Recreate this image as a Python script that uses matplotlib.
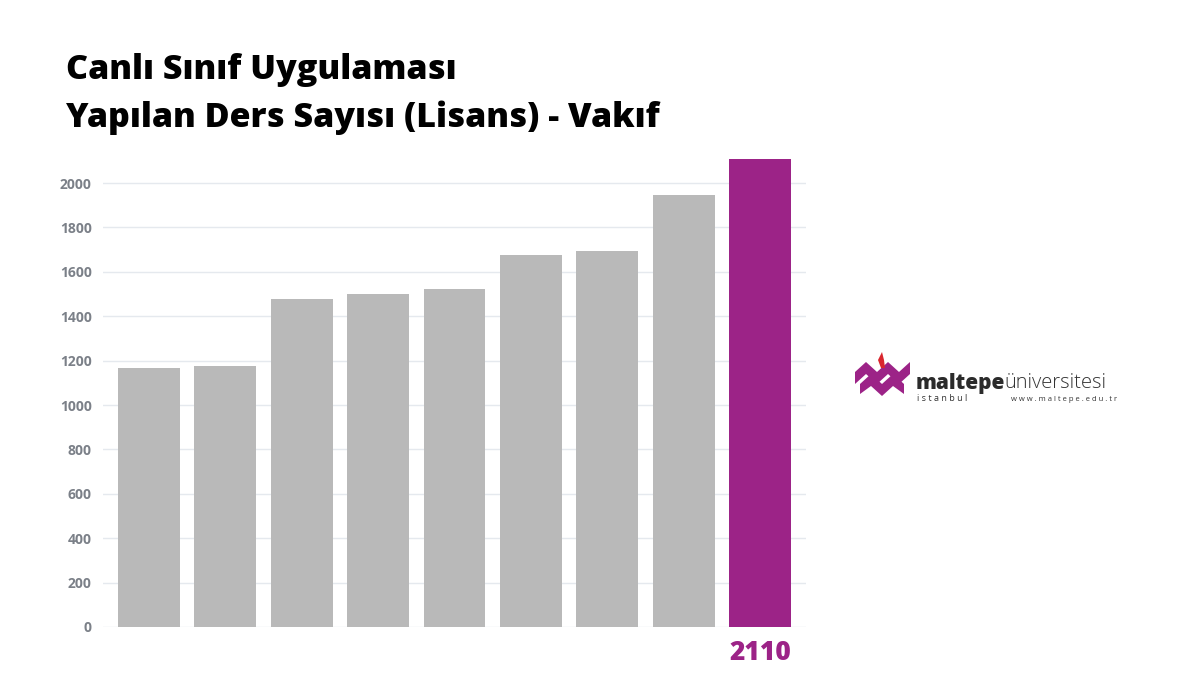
import matplotlib
matplotlib.use("Agg")
import matplotlib.pyplot as plt
from matplotlib.patches import Polygon

# Data
categories = ["1", "2", "3", "4", "5", "6", "7", "8", "9"]
values = [1167, 1176, 1477, 1500, 1523, 1676, 1694, 1946, 2110]
highlight_index = 8
yticks = [0, 200, 400, 600, 800, 1000, 1200, 1400, 1600, 1800, 2000]
title_lines = ["Canlı Sınıf Uygulaması", "Yapılan Ders Sayısı (Lisans) - Vakıf"]

GRAY = "#b9b9b9"
PURPLE = "#9c2387"
TICK = "#7b8088"
GRID = "#e5e9ee"

plt.rcParams['font.family'] = ['Open Sans', 'DejaVu Sans']

fig = plt.figure(figsize=(12, 6.75), dpi=100)
fig.patch.set_facecolor("white")

# axes: left 103px, right 806px, bottom 627px, top 158px
ax = fig.add_axes([103/1200, (675-627)/675, (806-103)/1200, (627-158)/675])
x = list(range(len(values)))
colors = [PURPLE if i == highlight_index else GRAY for i in x]
ax.bar(x, values, width=0.81, color=colors, zorder=3)
ax.set_xlim(-0.6, len(values) - 0.4)
ax.set_ylim(0, 2113)
ax.set_yticks(yticks)
ax.set_yticklabels([str(t) for t in yticks], color=TICK, fontsize=10, fontweight="bold")
ax.set_xticks([])
ax.tick_params(axis="y", length=0, pad=8)
ax.grid(axis="y", color=GRID, linewidth=1, zorder=0)
for s in ax.spines.values():
    s.set_visible(False)

# value label under highlighted bar
ax.annotate(str(values[highlight_index]), xy=(highlight_index, 0), xytext=(0, -9),
            textcoords="offset points", ha="center", va="top",
            color=PURPLE, fontsize=19, fontweight="heavy")

# title
fig.text(66/1200, 1 - 70/675, title_lines[0], fontsize=24.5, fontweight="heavy",
         color="black", va="center", ha="left")
fig.text(66/1200, 1 - 118/675, title_lines[1], fontsize=24.5, fontweight="heavy",
         color="black", va="center", ha="left")

# logo approximation
def fpt(px, py):
    return (px/1200, 1 - py/675)
zig = [(855, 372), (866, 362), (877, 372), (888, 362), (899, 372), (910, 362),
       (910, 374), (899, 384), (888, 374), (877, 384), (866, 374), (855, 384)]
fig.patches.append(Polygon([fpt(*p) for p in zig], closed=True, transform=fig.transFigure,
                           facecolor=PURPLE, edgecolor="none"))
zig2 = [(860, 384), (871, 374), (882, 384), (893, 374), (904, 384),
        (904, 394), (893, 386), (882, 396), (871, 386), (860, 394)]
fig.patches.append(Polygon([fpt(*p) for p in zig2], closed=True, transform=fig.transFigure,
                           facecolor=PURPLE, edgecolor="none"))
flame = [(881, 368), (878, 360), (882, 352), (884, 360), (885, 368)]
fig.patches.append(Polygon([fpt(*p) for p in flame], closed=True, transform=fig.transFigure,
                           facecolor="#d9262e", edgecolor="none"))
fig.text(916/1200, 1 - 389/675, "maltepe", fontsize=15, fontweight="heavy",
         color="#2b2b2b", ha="left", va="baseline")
fig.text(1004/1200, 1 - 388/675, "üniversitesi", fontsize=14.5, fontweight="light",
         color="#333333", ha="left", va="baseline")
fig.text(917/1200, 1 - 401/675, "i s t a n b u l", fontsize=6.5,
         color="#333333", ha="left", va="baseline")
fig.text(1117/1200, 1 - 401/675, "w w w . m a l t e p e . e d u . t r", fontsize=5.5,
         color="#333333", ha="right", va="baseline")

fig.savefig("out.png", dpi=100, facecolor="white")
